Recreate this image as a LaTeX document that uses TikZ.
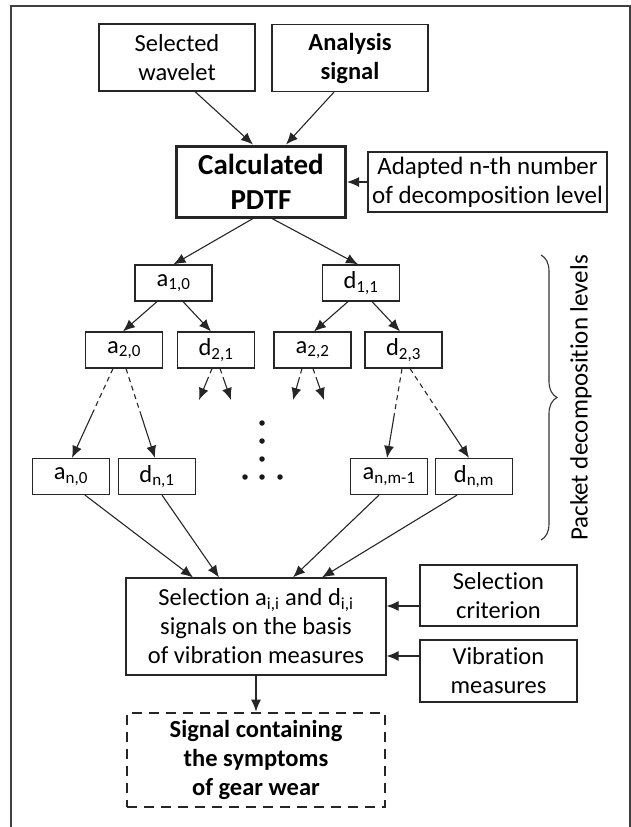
\documentclass[tikz,border=0pt]{standalone}
\usepackage{fontspec}
\setmainfont{Carlito}[Ligatures=NoCommon]
\usetikzlibrary{arrows.meta,calc,decorations.pathreplacing}
\tikzset{
  box/.style={draw=black!85, line width=1.2pt, align=center, inner sep=0pt,
    font=\fontsize{24.5}{29}\selectfont, text=black},
  small/.style={box, minimum width=77pt, minimum height=36pt},
  arr/.style={line width=1.1pt, draw=black!85, -{Latex[length=12pt,width=10pt]}},
  dsh/.style={line width=1.1pt, draw=black!85, dash pattern=on 5pt off 4pt},
  dotmark/.style={circle, fill=black!90, inner sep=0pt, minimum size=5.5pt}
}
\newcommand{\subsc}[1]{\textsubscript{\fontsize{17}{17}\selectfont #1}}
\begin{document}
\begin{tikzpicture}[x=1pt,y=-1pt]
\useasboundingbox (0,0) rectangle (631,827);
% frame
\draw[line width=1.6pt, draw=black!75] (11,827) -- (11,6) -- (630,6) -- (630,827);

% top nodes
\node[box, minimum width=156pt, minimum height=67pt] (wav) at (177,57.5) {Selected\\wavelet};
\node[box, minimum width=156pt, minimum height=67pt, font=\bfseries\fontsize{24.5}{29}\selectfont] (ana) at (350,58) {Analysis\\signal};
\node[box, line width=3pt, minimum width=169pt, minimum height=71pt, font=\bfseries\fontsize{29}{35}\selectfont] (pdtf) at (261,181.5) {Calculated\\PDTF};
\node[box, minimum width=239pt, minimum height=60pt, font=\fontsize{25}{29}\selectfont] (adap) at (487.5,182) {Adapted n-th number\\of decomposition level};

% tree nodes
\node[small] (a10) at (173.5,283) {a\subsc{1,0}};
\node[small] (d11) at (361,283) {d\subsc{1,1}};
\node[small] (a20) at (124,350) {a\subsc{2,0}};
\node[small] (d21) at (216,350) {d\subsc{2,1}};
\node[small] (a22) at (312.5,350) {a\subsc{2,2}};
\node[small] (d23) at (403.5,350) {d\subsc{2,3}};
\node[small] (an0) at (71,476.5) {a\subsc{n,0}};
\node[small] (dn1) at (157,476.5) {d\subsc{n,1}};
\node[small] (anm) at (389,476.5) {a\subsc{n,m-1}};
\node[small] (dnm) at (474,476.5) {d\subsc{n,m}};

% dots
\node[dotmark] (v1) at (262,423) {};
\node[dotmark] (v2) at (262,441) {};
\node[dotmark] (v3) at (262,459) {};
\node[dotmark] (h1) at (245,477) {};
\node[dotmark] (h2) at (262,477) {};
\node[dotmark] (h3) at (280,477) {};

% bottom nodes
\node[box, minimum width=260pt, minimum height=97pt] (sel) at (256,626.5) {Selection a\subsc{i,i} and d\subsc{i,i}\\signals on the basis\\of vibration measures};
\node[box, minimum width=157pt, minimum height=61pt] (crit) at (498.5,595.5) {Selection\\criterion};
\node[box, minimum width=157pt, minimum height=62pt] (vib) at (498.5,671) {Vibration\\measures};
\node[box, line width=2.8pt, dash pattern=on 10pt off 7pt, minimum width=258pt, minimum height=94pt, font=\bfseries\fontsize{24.5}{29}\selectfont] (sig) at (256,760) {Signal containing\\the symptoms\\of gear wear};

% brace and label
\draw[line width=1.1pt, draw=black!80, decorate, decoration={brace, amplitude=16pt}] (541,255) -- (541,540);
\node[font=\fontsize{25}{29}\selectfont, text=black, rotate=90] (lbl) at (581,398) {Packet decomposition levels};

% arrows top
\draw[arr] ([xshift=18pt]wav.south) -- ([xshift=-8pt]pdtf.north);
\draw[arr] ([xshift=-16pt]ana.south) -- ([xshift=25pt]pdtf.north);
\draw[arr] (adap.west) -- (adap.west -| pdtf.east);
\draw[arr] ([xshift=-8pt]pdtf.south) -- (a10.north);
\draw[arr] ([xshift=11pt]pdtf.south) -- ([xshift=-3pt]d11.north);
% level 1 -> 2
\draw[arr] ([xshift=-16.5pt]a10.south) -- ([xshift=-1pt]a20.north);
\draw[arr] ([xshift=9.5pt]a10.south) -- ([xshift=-5pt]d21.north);
\draw[arr] ([xshift=-13pt]d11.south) -- ([xshift=1.5pt]a22.north);
\draw[arr] ([xshift=11pt]d11.south) -- ([xshift=-3.5pt]d23.north);

% short partial arrows
\coordinate (e1) at (199,400);
\coordinate (e2) at (231,400);
\coordinate (e3) at (293,400);
\coordinate (e4) at (324,400);
\coordinate (s1) at ([xshift=-4pt]d21.south);
\coordinate (s2) at ([xshift=4pt]d21.south);
\coordinate (s3) at ([xshift=-10.5pt]a22.south);
\coordinate (s4) at ([xshift=0.5pt]a22.south);
\foreach \s/\e in {s1/e1,s2/e2,s3/e3,s4/e4}{
  \draw[dsh] (\s) -- ($(\s)!0.4!(\e)$);
  \draw[arr] ($(\s)!0.4!(\e)$) -- (\e);
}

% long partial arrows
\coordinate (l1) at ([xshift=-11pt]a20.south);
\coordinate (l2) at ([xshift=2pt]a20.south);
\coordinate (l3) at ([xshift=-1.5pt]d23.south);
\coordinate (l4) at ([xshift=6.5pt]d23.south);
\coordinate (t1) at ([xshift=1pt]an0.north);
\coordinate (t2) at ([xshift=-2pt]dn1.north);
\coordinate (t3) at ([xshift=-2pt]anm.north);
\coordinate (t4) at ([xshift=-5pt]dnm.north);
\foreach \s/\e in {l1/t1,l2/t2,l3/t3,l4/t4}{
  \draw[dsh] (\s) -- ($(\s)!0.5!(\e)$);
  \draw[arr] ($(\s)!0.5!(\e)$) -- (\e);
}

% into selection
\draw[arr] ([xshift=14pt]an0.south) -- ([xshift=-63pt]sel.north);
\draw[arr] ([xshift=5pt]dn1.south) -- ([xshift=-37pt]sel.north);
\draw[arr] ([xshift=-10pt]anm.south) -- ([xshift=37pt]sel.north);
\draw[arr] ([xshift=-17pt]dnm.south) -- ([xshift=66pt]sel.north);

\draw[arr] ([yshift=-10.5pt]crit.west) -- ([yshift=-10.5pt]crit.west -| sel.east);
\draw[arr] ([yshift=15pt]vib.west) -- ([yshift=15pt]vib.west -| sel.east);
\draw[arr] (sel.south) -- (sig.north);
\end{tikzpicture}
\end{document}
